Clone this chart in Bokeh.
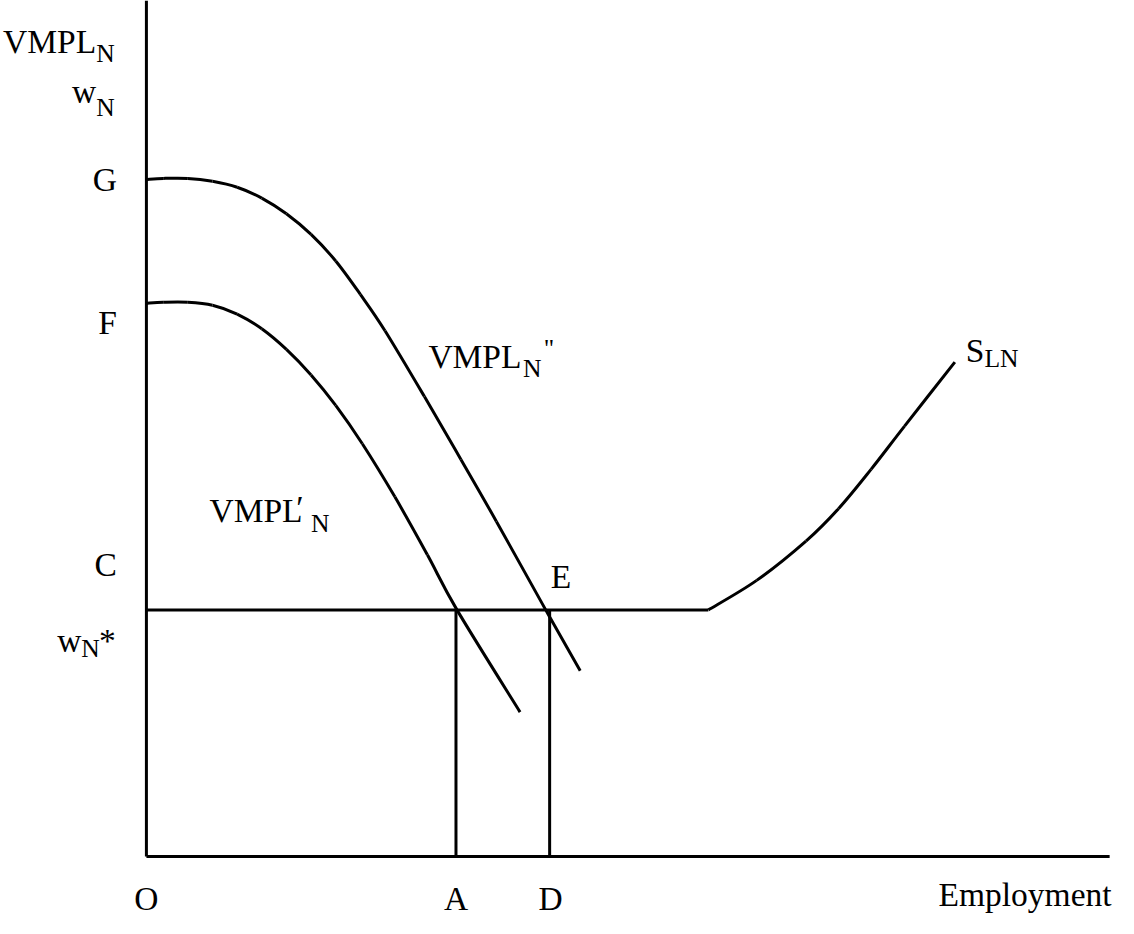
from bokeh.plotting import figure
from bokeh.models import Range1d
from bokeh.core.properties import value
from bokeh.embed import file_html
from bokeh.resources import INLINE

# ---- data (employment units along x, wage units along y; origin O = (0, 0)) ----
vmpl2_emp = [0, 17, 42, 67, 92, 117, 142, 167, 192, 217, 242, 282, 319, 355, 405, 440]
vmpl2_wage = [689, 690, 690, 687, 681, 670, 654, 633, 606, 572, 535, 468, 404, 341, 251, 189]

vmpl1_emp = [0, 17, 42, 67, 92, 117, 142, 167, 192, 219, 252, 285, 315, 379]
vmpl1_wage = [563, 564, 564, 561, 552, 537, 516, 490, 459, 420, 366, 307, 251, 147]

supply_emp = [570, 619, 669, 702, 735, 769, 820]
supply_wage = [251, 281, 321, 354, 394, 438, 503]

w_star = 251          # wage level w_N*
emp_A = 314           # employment A
emp_D = 409           # employment D
axis_x_max = 977
axis_y_max = 871

# ---- figure ----
W, H = 1118, 918
SX = W / 1134.0
p = figure(width=W, height=H, output_backend="svg", toolbar_location=None,
           x_range=Range1d(-148, 1134 - 148), y_range=Range1d(871 - 934, 871),
           x_axis_location=None, y_axis_location=None, min_border=0)
p.grid.visible = False
p.outline_line_color = None
p.background_fill_color = "white"
p.border_fill_color = "white"

LW = 3


def smooth(xs, ys):
    """Draw a smooth curve through the given points (Catmull-Rom as cubic Beziers)."""
    n = len(xs)
    x0, y0, x1, y1, cx0, cy0, cx1, cy1 = [], [], [], [], [], [], [], []
    for i in range(n - 1):
        pa = max(i - 1, 0)
        pb = min(i + 2, n - 1)
        x0.append(xs[i]); y0.append(ys[i])
        x1.append(xs[i + 1]); y1.append(ys[i + 1])
        cx0.append(xs[i] + (xs[i + 1] - xs[pa]) / 6.0)
        cy0.append(ys[i] + (ys[i + 1] - ys[pa]) / 6.0)
        cx1.append(xs[i + 1] - (xs[pb] - xs[i]) / 6.0)
        cy1.append(ys[i + 1] - (ys[pb] - ys[i]) / 6.0)
    p.bezier(x0=x0, y0=y0, x1=x1, y1=y1, cx0=cx0, cy0=cy0, cx1=cx1, cy1=cy1,
             line_color="black", line_width=LW)


# axes
p.line([0, 0], [0, axis_y_max], line_color="black", line_width=LW)
p.line([0, axis_x_max], [0, 0], line_color="black", line_width=LW)
# curves
smooth(vmpl2_emp, vmpl2_wage)
smooth(vmpl1_emp, vmpl1_wage)
p.line([0, supply_emp[0]], [w_star, w_star], line_color="black", line_width=LW)
smooth(supply_emp, supply_wage)
# drop lines
p.line([emp_A, emp_A], [0, w_star], line_color="black", line_width=LW)
p.line([emp_D, emp_D], [0, w_star], line_color="black", line_width=LW)

FONT = value("Liberation Serif")


def X(px):
    return px - 148


def Y(py):
    return 871 - py


def label(px, py, txt, size=34, align="left"):
    # py is the wanted baseline; the svg text sits ~0.32em low, so lift it
    p.text(x=[X(px)], y=[Y(py - 0.32 * size)], text=[txt], text_font=FONT,
           text_font_size=f"{size * SX:.1f}px", text_color="black",
           text_align=align, text_baseline="alphabetic")


BIG, SUB = 34, 26
# y-axis labels
label(97, 53, "VMPL", BIG, "right")
label(97, 62, "N", SUB)
label(97, 103, "w", BIG, "right")
label(97, 117, "N", SUB)
label(118, 193, "G", BIG, "right")
label(118, 338, "F", BIG, "right")
label(118, 585, "C", BIG, "right")
label(82, 662, "w", BIG, "right")
label(82, 668, "N", SUB)
label(100, 662, "*", BIG)
# x-axis labels
label(148, 925, "O", BIG, "center")
label(462, 925, "A", BIG, "center")
label(558, 925, "D", BIG, "center")
label(1127, 920, "Employment", BIG, "right")
# curve labels
label(558, 597, "E", BIG)
label(434, 373, "VMPL", BIG)
label(530, 383, "N", SUB)
label(551, 362, "\"", SUB)
label(212, 530, "VMPL", BIG)
label(300, 527, "\u2032", BIG)
label(315, 540, "N", SUB)
label(979, 367, "S", BIG)
label(998, 373, "LN", SUB)

open("out.html", "w").write(file_html(p, INLINE))
